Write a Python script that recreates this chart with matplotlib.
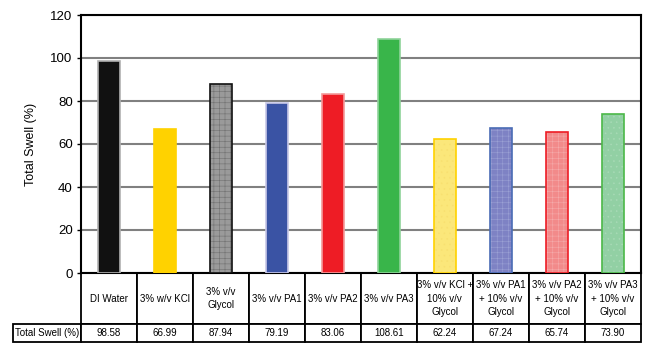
import numpy as np
import matplotlib
matplotlib.use("Agg")
from matplotlib import pyplot as plt

plt.rcParams['font.family'] = ['Liberation Sans', 'DejaVu Sans']
plt.rcParams['hatch.linewidth'] = 0.4

categories = ["DI Water", "3% w/v KCl", "3% v/v\nGlycol", "3% v/v PA1", "3% v/v PA2",
              "3% v/v PA3", "3% v/v KCl +\n10% v/v\nGlycol", "3% v/v PA1\n+ 10% v/v\nGlycol",
              "3% v/v PA2\n+ 10% v/v\nGlycol", "3% v/v PA3\n+ 10% v/v\nGlycol"]
swell = [98.58, 66.99, 87.94, 79.19, 83.06, 108.61, 62.24, 67.24, 65.74, 73.90]

faces = ['#111111', '#FFD200', '#9a9a9a', '#3A53A4', '#EE1C25', '#39B54A',
         '#FBE77A', '#7E82C4', '#F28A8A', '#92D0A4']
edges = ['#b0b0b0', '#FFD200', '#111111', '#c8c8e8', '#f49a9a', '#8fd39a',
         '#FFD200', '#4A6CB5', '#EE1C25', '#4CB848']
hatches = [None, None, '+++', None, None, None, '...', '+++', '+++', '...']
hatch_cols = [None, None, '#707070', None, None, None, '#f8e070', '#9aa0d4', '#f5aaaa', '#a8dab6']

fig = plt.figure(figsize=(6.5, 3.55), dpi=100)
ax = fig.add_axes([81/650, 1 - 273/355, (640.7 - 81)/650, (273 - 15)/355])

x = np.arange(len(swell))
# filled bars
ax.bar(x, swell, width=0.39, color=faces, linewidth=0, zorder=3)
# fine texture on the patterned bars
for i in range(len(swell)):
    if hatches[i]:
        ax.bar(x[i], swell[i], width=0.39, color='none', edgecolor=hatch_cols[i],
               hatch=hatches[i], linewidth=0, zorder=4)
# outlines
ax.bar(x, swell, width=0.39, color='none', edgecolor=edges, linewidth=1.2, zorder=5)

ax.set_xlim(-0.5, len(swell) - 0.5)
ax.set_ylim(0, 120)
ax.set_yticks(range(0, 121, 20))
ax.yaxis.grid(True, color='#808080', linewidth=1.5, zorder=0)
ax.set_xticks([])
ax.tick_params(axis='y', length=3, width=1, labelsize=9.5, pad=3)
for s in ax.spines.values():
    s.set_linewidth(1.5)
    s.set_color('black')
ax.set_ylabel("Total Swell (%)", fontsize=9, labelpad=10)

# data table under the bars
row_cat = [""] + categories
row_val = ["Total Swell (%)"] + [f"{v:.2f}" for v in swell]
left = (13 - 81) / (640.7 - 81)
tbl = ax.table(cellText=[row_cat, row_val], cellLoc='center',
               bbox=[left, -69/258, 1 - left, 69/258])
tbl.auto_set_font_size(False)
tbl.set_fontsize(7)
for (r, c), cell in tbl.get_celld().items():
    cell.set_height(51 if r == 0 else 18)
    cell.set_width(68 if c == 0 else 56)
    cell.set_linewidth(1.3)
    cell.get_text().set_linespacing(1.45)
    if r == 0 and c == 0:
        cell.visible_edges = ''

fig.savefig("out.png", dpi=100)
